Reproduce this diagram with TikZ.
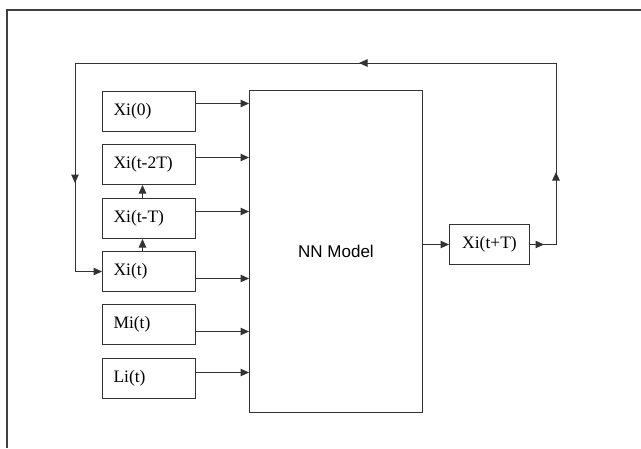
\documentclass[tikz,border=0pt]{standalone}
\usepackage{fontspec}
\setmainfont{Liberation Serif}
\newfontfamily\nnfont{Liberation Sans}
\usetikzlibrary{arrows.meta,calc}
\begin{document}
\begin{tikzpicture}[x=1pt,y=-1pt,
  ln/.style={draw=black!80, line width=1pt},
  arr/.style={ln, -{Triangle[length=8.5pt,width=7.5pt]}},
  inbox/.style={draw=black!80, line width=1pt, minimum height=40pt, text width=71pt,
    inner xsep=11pt, inner ysep=0pt, align=left, anchor=north west,
    font=\fontsize{17.5}{19}\selectfont},
  nnbox/.style={draw=black!80, line width=1pt, minimum width=173pt, minimum height=322pt,
    anchor=north west, inner sep=0pt, font=\nnfont\fontsize{17}{19}\selectfont},
  outbox/.style={draw=black!80, line width=1pt, minimum width=80pt, minimum height=40pt,
    anchor=north west, inner sep=0pt, font=\fontsize{17.5}{19}\selectfont}]
\useasboundingbox (0,0) rectangle (641,448);
\fill[white] (0,0) rectangle (641,448);
% frame
\draw[draw=black!75, line width=1.3pt] (7,448) -- (7,10) -- (641,10);
% boxes
\node[inbox] (b1) at (102,91) {Xi(0)};
\node[inbox] (b2) at (102,144) {Xi(t-2T)};
\node[inbox] (b3) at (102,198) {Xi(t-T)};
\node[inbox] (b4) at (102,251) {Xi(t)};
\node[inbox] (b5) at (102,304) {Mi(t)};
\node[inbox] (b6) at (102,358) {Li(t)};
\node[nnbox] (nn) at (249,90) {NN Model};
\node[outbox] (xo) at (449,224) {Xi(t+T)};
% inputs to NN
\draw[arr] ($(b1.east)+(0,-8)$) -- ($(b1.east -| nn.west)+(0,-8)$);
\draw[arr] ($(b2.east)+(0,-7)$) -- ($(b2.east -| nn.west)+(0,-7)$);
\draw[arr] ($(b3.east)+(0,-7)$) -- ($(b3.east -| nn.west)+(0,-7)$);
\draw[arr] ($(b4.east)+(0,7)$) -- ($(b4.east -| nn.west)+(0,7)$);
\draw[arr] ($(b5.east)+(0,7)$) -- ($(b5.east -| nn.west)+(0,7)$);
\draw[arr] ($(b6.east)+(0,-6)$) -- ($(b6.east -| nn.west)+(0,-6)$);
% shift arrows
\draw[arr] ([xshift=-6.5pt]b4.north) -- ([xshift=-6.5pt]b3.south);
\draw[arr] ([xshift=-6.5pt]b3.north) -- ([xshift=-6.5pt]b2.south);
% NN to output
\draw[arr] (nn.east |- xo.west) -- (xo.west);
% feedback loop
\coordinate (tr) at (556,63);
\coordinate (tl) at (75,63);
\coordinate (ra) at (544,244);
\coordinate (ua) at (556,172);
\coordinate (ta) at (359,63);
\coordinate (da) at (75,183);
\draw[ln] (xo.east) -- (xo.east -| tr) -- (tr) -- (tl) -- (tl |- b4.west);
\draw[arr] (tl |- b4.west) -- (b4.west);
\draw[arr] (xo.east) -- (xo.east -| ra);
\draw[arr] (xo.east -| ua) -- (ua);
\draw[arr] (tr) -- (ta);
\draw[arr] (tl) -- (da);
\end{tikzpicture}
\end{document}
